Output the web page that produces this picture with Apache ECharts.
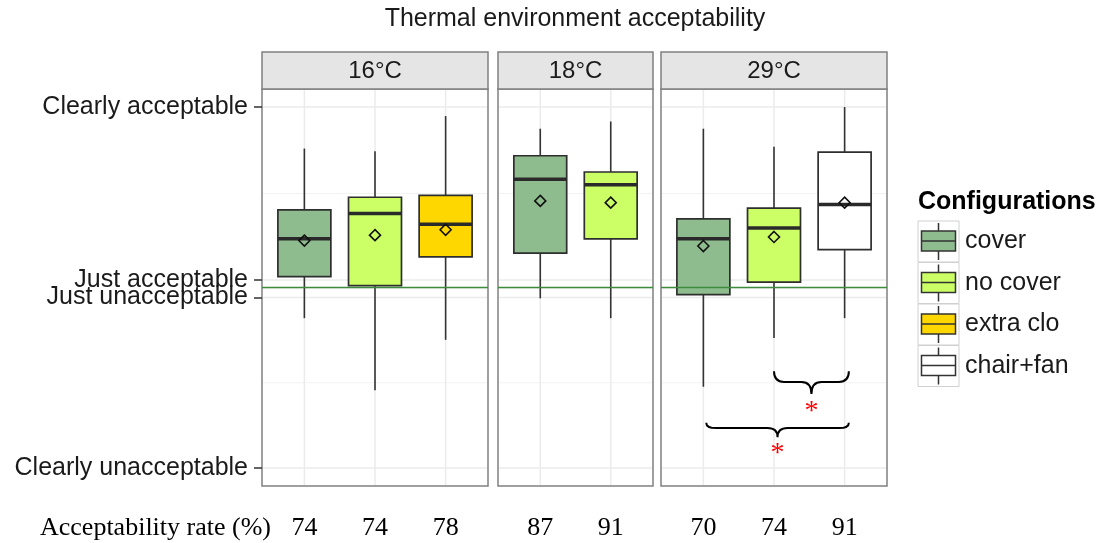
<!DOCTYPE html>
<html><head><meta charset="utf-8">
<script src="https://cdn.jsdelivr.net/npm/echarts@6/dist/echarts.min.js"></script>
<style>html,body{margin:0;padding:0;background:#fff}#c{width:1112px;height:543px}</style>
</head><body><div id="c"></div>
<script>
// ---------- data ----------
const chartTitle = 'Thermal environment acceptability';
const panels = ['16°C', '18°C', '29°C'];
const configNames = ['cover', 'no cover', 'extra clo', 'chair+fan'];
const configColors = ['#8fbc8f', '#ccff66', '#ffd700', '#ffffff'];
const panelConfigs = [[0, 1, 2], [0, 1], [0, 1, 3]];
// [lower whisker, Q1, median, Q3, upper whisker]
const boxes16 = [[-0.17, 0.06, 0.27, 0.43, 0.77], [-0.57, 0.01, 0.41, 0.50, 0.755], [-0.29, 0.17, 0.35, 0.51, 0.95]];
const means16 = [0.26, 0.29, 0.32];
const boxes18 = [[-0.06, 0.19, 0.60, 0.73, 0.88], [-0.17, 0.27, 0.57, 0.64, 0.92]];
const means18 = [0.48, 0.47];
const boxes29 = [[-0.55, -0.04, 0.27, 0.38, 0.88], [-0.28, 0.03, 0.33, 0.44, 0.78], [-0.17, 0.21, 0.46, 0.75, 1.0]];
const means29 = [0.23, 0.28, 0.47];
const rates16 = [74, 74, 78];
const rates18 = [87, 91];
const rates29 = [70, 74, 91];
const rateLabel = 'Acceptability rate (%)';
const yBreakValues = [-1, -0.056, 0.042, 1];
const yBreakLabels = ['Clearly unacceptable', 'Just unacceptable', 'Just acceptable', 'Clearly acceptable'];
const yMinorValues = [-0.528, -0.007, 0.521];
const refLineValue = 0;
// braces in 29°C panel: [x start, x end, end level, bar level, tip level]
const braces29 = [[2, 3.06, -0.464, -0.523, -0.59], [1.04, 3.06, -0.749, -0.779, -0.83]];
// significance marks: [x, y, text]
const sig29 = [[2.53, -0.668, '*'], [2.05, -0.897, '*']];
const legendTitle = 'Configurations';

// ---------- layout ----------
const allBoxes = [boxes16, boxes18, boxes29];
const allMeans = [means16, means18, means29];
const allRates = [rates16, rates18, rates29];
const gridLefts = [262, 498, 661];
const unitPx = 70.625;
const gridTop = 89, gridH = 397, stripTop = 52, stripH = 37;
const SANS = 'Liberation Sans, Arial, sans-serif';
const SERIF = 'Liberation Serif, Times New Roman, serif';

const grids = [], xAxes = [], yAxes = [], series = [], graphics = [];
panels.forEach((p, i) => {
  const n = panelConfigs[i].length;
  const w = Math.round((n + 0.2) * unitPx);
  grids.push({left: gridLefts[i], top: gridTop, width: w, height: gridH, show: true,
    borderColor: '#808080', borderWidth: 1.5, backgroundColor: '#fff'});
  const rates = allRates[i];
  xAxes.push({type: 'value', gridIndex: i, min: 0.4, max: n + 0.6,
    axisLine: {show: false}, axisTick: {show: false}, splitLine: {show: false},
    axisLabel: {customValues: rates.map((r, k) => k + 1), margin: 29,
      formatter: v => String(rates[Math.round(v) - 1]),
      fontFamily: SERIF, fontSize: 26, color: '#000'}});
  yAxes.push(i === 0 ? {type: 'value', gridIndex: i, min: -1.1, max: 1.1,
    axisLine: {show: false}, splitLine: {show: false},
    axisTick: {show: true, customValues: yBreakValues, length: 8, lineStyle: {color: '#333', width: 1.5}},
    axisLabel: {customValues: yBreakValues, margin: 14, fontFamily: SANS, fontSize: 25, color: '#1a1a1a',
      formatter: v => { const k = yBreakValues.findIndex(b => Math.abs(b - v) < 1e-6); return k >= 0 ? yBreakLabels[k] : ''; }}}
    : {type: 'value', gridIndex: i, min: -1.1, max: 1.1, show: false});

  // gridlines
  const gl = [];
  yBreakValues.forEach(v => gl.push([0, v]));
  yMinorValues.forEach(v => gl.push([1, v]));
  for (let k = 1; k <= n; k++) gl.push([2, k]);
  series.push({type: 'custom', xAxisIndex: i, yAxisIndex: i, z: 1, silent: true, data: gl,
    encode: {x: 1, y: 1},
    renderItem: (params, api) => {
      const cs = params.coordSys;
      const kind = api.value(0), v = api.value(1);
      if (kind === 2) {
        const x = api.coord([v, 0])[0];
        return {type: 'line', shape: {x1: x, y1: cs.y + 1, x2: x, y2: cs.y + cs.height - 1},
          style: {stroke: '#ebebeb', lineWidth: 1.5}};
      }
      const y = api.coord([1, v])[1];
      return {type: 'line', shape: {x1: cs.x + 1, y1: y, x2: cs.x + cs.width - 1, y2: y},
        style: {stroke: kind === 0 ? '#ebebeb' : '#f2f2f2', lineWidth: kind === 0 ? 1.5 : 1}};
    }});

  // boxes
  const bd = allBoxes[i].map((b, k) => [k + 1, b[0], b[1], b[2], b[3], b[4], allMeans[i][k], panelConfigs[i][k]]);
  series.push({type: 'custom', name: p, xAxisIndex: i, yAxisIndex: i, z: 2, data: bd,
    encode: {x: 0, y: [1, 2, 3, 4, 5]},
    renderItem: (params, api) => {
      const x = api.value(0);
      const cx = api.coord([x, 0])[0];
      const bw = api.size([0.75, 0])[0];
      const Y = v => api.coord([x, v])[1];
      const yLo = Y(api.value(1)), yQ1 = Y(api.value(2)), yMed = Y(api.value(3)),
        yQ3 = Y(api.value(4)), yHi = Y(api.value(5)), yMean = Y(api.value(6));
      const col = configColors[api.value(7)];
      const d = 5.5;
      return {type: 'group', children: [
        {type: 'line', shape: {x1: cx, y1: yHi, x2: cx, y2: yQ3}, style: {stroke: '#333', lineWidth: 1.6}},
        {type: 'line', shape: {x1: cx, y1: yQ1, x2: cx, y2: yLo}, style: {stroke: '#333', lineWidth: 1.6}},
        {type: 'rect', shape: {x: cx - bw / 2, y: yQ3, width: bw, height: yQ1 - yQ3},
          style: {fill: col, stroke: '#2e2e2e', lineWidth: 1.7}},
        {type: 'line', shape: {x1: cx - bw / 2, y1: yMed, x2: cx + bw / 2, y2: yMed}, style: {stroke: '#2a2a2a', lineWidth: 3.5}},
        {type: 'polygon', shape: {points: [[cx, yMean - d], [cx + d, yMean], [cx, yMean + d], [cx - d, yMean]]},
          style: {fill: 'none', stroke: '#111', lineWidth: 1.6}}
      ]};
    }});

  // reference line
  series.push({type: 'custom', xAxisIndex: i, yAxisIndex: i, z: 3, silent: true, data: [[1, refLineValue]],
    encode: {x: 0, y: 1},
    renderItem: (params, api) => {
      const cs = params.coordSys;
      const y = api.coord([1, api.value(1)])[1];
      return {type: 'line', shape: {x1: cs.x, y1: y, x2: cs.x + cs.width, y2: y},
        style: {stroke: '#3d8b3d', lineWidth: 1.5}};
    }});

  // strip
  graphics.push({type: 'rect', shape: {x: gridLefts[i], y: stripTop, width: w, height: stripH},
    style: {fill: '#e5e5e5', stroke: '#808080', lineWidth: 1.5}, z: 10});
  graphics.push({type: 'text', x: gridLefts[i] + w / 2, y: stripTop + stripH / 2 + 1,
    style: {text: p, font: '24px ' + SANS, fill: '#1a1a1a', align: 'center', verticalAlign: 'middle'}, z: 11});
});

// braces + significance marks in 29°C panel
series.push({type: 'custom', xAxisIndex: 2, yAxisIndex: 2, z: 4, silent: true, data: braces29,
  encode: {x: [0, 1], y: [2, 3, 4]},
  renderItem: (params, api) => {
    const x1 = api.coord([api.value(0), 0])[0], x2 = api.coord([api.value(1), 0])[0];
    const ye = api.coord([1, api.value(2)])[1], ym = api.coord([1, api.value(3)])[1], yt = api.coord([1, api.value(4)])[1];
    const xm = (x1 + x2) / 2, r = 10;
    const path = `M${x1},${ye} Q${x1},${ym} ${x1 + r},${ym} L${xm - r},${ym} Q${xm},${ym} ${xm},${yt} ` +
      `Q${xm},${ym} ${xm + r},${ym} L${x2 - r},${ym} Q${x2},${ym} ${x2},${ye}`;
    return {type: 'path', shape: {pathData: path}, style: {fill: 'none', stroke: '#000', lineWidth: 2}};
  }});
series.push({type: 'custom', xAxisIndex: 2, yAxisIndex: 2, z: 4, silent: true, data: sig29,
  encode: {x: 0, y: 1},
  renderItem: (params, api) => {
    const c = api.coord([api.value(0), api.value(1)]);
    return {type: 'text', x: c[0], y: c[1] + 4,
      style: {text: sig29[params.dataIndex][2], font: '28px ' + SERIF, fill: '#ff0000', align: 'center', verticalAlign: 'middle'}};
  }});

// title
graphics.push({type: 'text', x: 575, y: 19, style: {text: chartTitle, font: '25px ' + SANS, fill: '#1a1a1a',
  align: 'center', verticalAlign: 'middle'}});
// bottom row label
graphics.push({type: 'text', x: 40, y: 528, style: {text: rateLabel, font: '26px ' + SERIF, fill: '#000',
  align: 'left', verticalAlign: 'middle'}});
// legend
graphics.push({type: 'text', x: 918, y: 202, style: {text: legendTitle, font: 'bold 25px ' + SANS, fill: '#000',
  align: 'left', verticalAlign: 'middle'}});
configNames.forEach((name, k) => {
  const ky = 221 + k * 41.5, kx = 918, ks = 41;
  const cx = kx + ks / 2;
  graphics.push({type: 'rect', shape: {x: kx, y: ky, width: ks, height: ks}, style: {fill: '#fff', stroke: '#d0d0d0', lineWidth: 1}});
  graphics.push({type: 'line', shape: {x1: cx, y1: ky + 2, x2: cx, y2: ky + ks - 2}, style: {stroke: '#333', lineWidth: 1.5}});
  graphics.push({type: 'rect', shape: {x: cx - 17, y: ky + 10, width: 34, height: 20}, style: {fill: configColors[k], stroke: '#333', lineWidth: 1.5}});
  graphics.push({type: 'line', shape: {x1: cx - 17, y1: ky + 20, x2: cx + 17, y2: ky + 20}, style: {stroke: '#333', lineWidth: 1.5}});
  graphics.push({type: 'text', x: 965, y: ky + ks / 2, style: {text: name, font: '25px ' + SANS, fill: '#1a1a1a',
    align: 'left', verticalAlign: 'middle'}});
});

const chart = echarts.init(document.getElementById('c'), null, {renderer: 'canvas'});
chart.setOption({
  backgroundColor: '#fff',
  animation: false,
  grid: grids, xAxis: xAxes, yAxis: yAxes, series: series, graphic: graphics
});
</script></body></html>
